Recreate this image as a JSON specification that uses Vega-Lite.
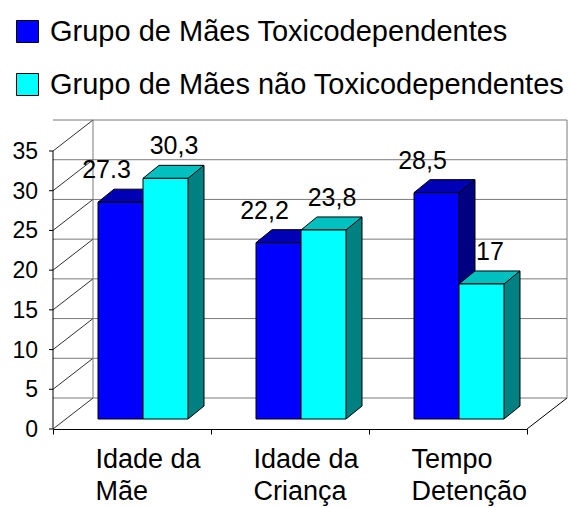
{
  "$schema": "https://vega.github.io/schema/vega-lite/v6.json",
  "width": 474,
  "height": 278,
  "autosize": {"type": "none"},
  "padding": {"left": 53, "top": 151, "right": 45, "bottom": 79},
  "background": "white",
  "config": {
    "font": "Liberation Sans",
    "view": {"stroke": null},
    "axisY": {"disable": true},
    "axisX": {
      "title": null, "grid": false, "tickBand": "extent", "domainColor": "black", "tickColor": "black", "tickSize": 5,
      "labelFontSize": 27, "labelColor": "black", "labelAlign": "left", "labelOffset": -37, "labelPadding": 12,
      "labelBaseline": "top", "labelLineHeight": 32, "labelLimit": 0, "labelAngle": 0, "labelFont": "Liberation Sans"
    }
  },
  "datasets": {
    "dados": [
      {"categoria": "Idade da Mãe", "serie": "Grupo de Mães Toxicodependentes", "valor": 27.3, "rotulo": "27.3"},
      {"categoria": "Idade da Mãe", "serie": "Grupo de Mães não Toxicodependentes", "valor": 30.3, "rotulo": "30,3"},
      {"categoria": "Idade da Criança", "serie": "Grupo de Mães Toxicodependentes", "valor": 22.2, "rotulo": "22,2"},
      {"categoria": "Idade da Criança", "serie": "Grupo de Mães não Toxicodependentes", "valor": 23.8, "rotulo": "23,8"},
      {"categoria": "Tempo Detenção", "serie": "Grupo de Mães Toxicodependentes", "valor": 28.5, "rotulo": "28,5"},
      {"categoria": "Tempo Detenção", "serie": "Grupo de Mães não Toxicodependentes", "valor": 17, "rotulo": "17"}
    ],
    "grelha": [{"v": 0}, {"v": 5}, {"v": 10}, {"v": 15}, {"v": 20}, {"v": 25}, {"v": 30}, {"v": 35}],
    "parede": [{"lado": "parede"}]
  },
  "data": {"name": "dados"},
  "layer": [
    {
      "data": {"name": "grelha"},
      "mark": {"type": "rule", "color": "#7a7a7a", "strokeWidth": 1, "xOffset": 40, "x2Offset": 40, "yOffset": -31},
      "encoding": {
        "y": {"field": "v", "type": "quantitative", "title": null, "scale": {"domain": [0, 35], "nice": false, "zero": true}}
      }
    },
    {
      "data": {"name": "grelha"},
      "mark": {"type": "point", "shape": "M0,0 L40,-31", "size": 4, "filled": false, "opacity": 1, "stroke": "#303030", "strokeWidth": 1, "xOffset": -79},
      "encoding": {
        "x": {
          "datum": "Idade da Mãe", "type": "nominal", "title": null,
          "scale": {"domain": ["Idade da Mãe", "Idade da Criança", "Tempo Detenção"], "paddingInner": 0, "paddingOuter": 0},
          "axis": {
            "labelExpr": "datum.label === 'Tempo Detenção' ? ['Tempo', 'Detenção'] : [slice(datum.label, 0, 8), slice(datum.label, 9)]"
          }
        },
        "y": {"field": "v", "type": "quantitative", "title": null}
      }
    },
    {
      "data": {"name": "parede"},
      "mark": {"type": "rule", "color": "#7a7a7a", "strokeWidth": 1, "xOffset": -39, "yOffset": -31, "y2Offset": -31},
      "encoding": {
        "x": {"datum": "Idade da Mãe", "type": "nominal", "title": null},
        "y": {"datum": 0, "type": "quantitative", "title": null},
        "y2": {"datum": 35}
      }
    },
    {
      "data": {"name": "parede"},
      "mark": {"type": "rule", "color": "#7a7a7a", "strokeWidth": 1, "xOffset": 119, "yOffset": -31, "y2Offset": -31},
      "encoding": {
        "x": {"datum": "Tempo Detenção", "type": "nominal", "title": null},
        "y": {"datum": 0, "type": "quantitative", "title": null},
        "y2": {"datum": 35}
      }
    },
    {
      "data": {"name": "parede"},
      "mark": {"type": "point", "shape": "M0,0 L40,-31", "size": 4, "filled": false, "opacity": 1, "stroke": "black", "strokeWidth": 1, "xOffset": 79},
      "encoding": {
        "x": {"datum": "Tempo Detenção", "type": "nominal", "title": null},
        "y": {"datum": 0, "type": "quantitative", "title": null}
      }
    },
    {
      "data": {"name": "parede"},
      "mark": {"type": "rule", "color": "black", "strokeWidth": 1, "xOffset": -79},
      "encoding": {
        "x": {"datum": "Idade da Mãe", "type": "nominal", "title": null},
        "y": {"datum": 0, "type": "quantitative", "title": null},
        "y2": {"datum": 35}
      }
    },
    {
      "data": {"name": "grelha"},
      "mark": {"type": "point", "shape": "M-4,0 L0,0", "size": 4, "filled": false, "opacity": 1, "stroke": "black", "strokeWidth": 1, "xOffset": -79},
      "encoding": {
        "x": {"datum": "Idade da Mãe", "type": "nominal", "title": null},
        "y": {"field": "v", "type": "quantitative", "title": null}
      }
    },
    {
      "data": {"name": "grelha"},
      "mark": {"type": "text", "fontSize": 23, "color": "black", "align": "right", "baseline": "middle", "xOffset": -79, "dx": -15, "dy": 1},
      "encoding": {
        "x": {"datum": "Idade da Mãe", "type": "nominal", "title": null},
        "y": {"field": "v", "type": "quantitative", "title": null},
        "text": {"field": "v", "type": "quantitative"}
      }
    },

    {
      "transform": [{"filter": "datum.serie === 'Grupo de Mães Toxicodependentes'"}],
      "mark": {"type": "bar", "width": 16, "xOffset": 19, "yOffset": -23, "y2Offset": -23, "strokeWidth": 0, "fill": "#000080"},
      "encoding": {
        "x": {"field": "categoria", "type": "nominal", "title": null},
        "y": {"field": "valor", "type": "quantitative", "title": null},
        "y2": {"datum": 0}
      }
    },
    {
      "transform": [{"filter": "datum.serie === 'Grupo de Mães Toxicodependentes'"}],
      "mark": {"type": "point", "shape": "M0,0 L0,-13 L16,-13 Z", "size": 4, "filled": true, "opacity": 1, "fill": "#000080", "strokeWidth": 0, "xOffset": 11, "yOffset": -10},
      "encoding": {
        "x": {"field": "categoria", "type": "nominal", "title": null},
        "y": {"datum": 0, "type": "quantitative", "title": null}
      }
    },
    {
      "transform": [{"filter": "datum.serie === 'Grupo de Mães Toxicodependentes'"}],
      "mark": {"type": "rule", "color": "black", "strokeWidth": 1, "xOffset": 27, "yOffset": -23, "y2Offset": -23},
      "encoding": {
        "x": {"field": "categoria", "type": "nominal", "title": null},
        "y": {"field": "valor", "type": "quantitative", "title": null},
        "y2": {"datum": 0}
      }
    },
    {
      "transform": [{"filter": "datum.serie === 'Grupo de Mães Toxicodependentes'"}],
      "mark": {"type": "point", "shape": "M0,0 L16,-13", "size": 4, "filled": false, "opacity": 1, "stroke": "black", "strokeWidth": 1, "xOffset": 11, "yOffset": -10},
      "encoding": {
        "x": {"field": "categoria", "type": "nominal", "title": null},
        "y": {"datum": 0, "type": "quantitative", "title": null}
      }
    },
    {
      "transform": [{"filter": "datum.serie === 'Grupo de Mães Toxicodependentes'"}],
      "mark": {"type": "point", "shape": "M-22.5,0 L22.5,0 L38.5,-13 L-6.5,-13 Z", "size": 4, "filled": true, "opacity": 1, "fill": "#0000B4", "stroke": "black", "strokeWidth": 1, "xOffset": -11.5, "yOffset": -10},
      "encoding": {
        "x": {"field": "categoria", "type": "nominal", "title": null},
        "y": {"field": "valor", "type": "quantitative", "title": null}
      }
    },
    {
      "transform": [{"filter": "datum.serie === 'Grupo de Mães Toxicodependentes'"}],
      "mark": {"type": "bar", "width": 45, "stroke": "black", "strokeWidth": 1, "xOffset": -11.5, "yOffset": -10, "y2Offset": -10},
      "encoding": {
        "x": {"field": "categoria", "type": "nominal", "title": null},
        "y": {"field": "valor", "type": "quantitative", "title": null},
        "y2": {"datum": 0},
        "fill": {
          "field": "serie", "type": "nominal",
          "scale": {"domain": ["Grupo de Mães Toxicodependentes", "Grupo de Mães não Toxicodependentes"], "range": ["#0000FF", "#00FFFF"]},
          "legend": {
            "orient": "none", "legendX": -40, "legendY": -134, "title": null, "direction": "vertical",
            "symbolType": "square", "symbolSize": 484, "symbolStrokeColor": "black", "symbolStrokeWidth": 1, "symbolOpacity": 1,
            "labelFontSize": 29, "labelColor": "black", "labelOffset": 8, "rowPadding": 23, "labelLimit": 0, "padding": 0
          }
        }
      }
    },

    {
      "transform": [{"filter": "datum.serie === 'Grupo de Mães não Toxicodependentes'"}],
      "mark": {"type": "bar", "width": 16, "xOffset": 64, "yOffset": -23, "y2Offset": -23, "strokeWidth": 0, "fill": "#008080"},
      "encoding": {
        "x": {"field": "categoria", "type": "nominal", "title": null},
        "y": {"field": "valor", "type": "quantitative", "title": null},
        "y2": {"datum": 0}
      }
    },
    {
      "transform": [{"filter": "datum.serie === 'Grupo de Mães não Toxicodependentes'"}],
      "mark": {"type": "point", "shape": "M0,0 L0,-13 L16,-13 Z", "size": 4, "filled": true, "opacity": 1, "fill": "#008080", "strokeWidth": 0, "xOffset": 56, "yOffset": -10},
      "encoding": {
        "x": {"field": "categoria", "type": "nominal", "title": null},
        "y": {"datum": 0, "type": "quantitative", "title": null}
      }
    },
    {
      "transform": [{"filter": "datum.serie === 'Grupo de Mães não Toxicodependentes'"}],
      "mark": {"type": "rule", "color": "black", "strokeWidth": 1, "xOffset": 72, "yOffset": -23, "y2Offset": -23},
      "encoding": {
        "x": {"field": "categoria", "type": "nominal", "title": null},
        "y": {"field": "valor", "type": "quantitative", "title": null},
        "y2": {"datum": 0}
      }
    },
    {
      "transform": [{"filter": "datum.serie === 'Grupo de Mães não Toxicodependentes'"}],
      "mark": {"type": "point", "shape": "M0,0 L16,-13", "size": 4, "filled": false, "opacity": 1, "stroke": "black", "strokeWidth": 1, "xOffset": 56, "yOffset": -10},
      "encoding": {
        "x": {"field": "categoria", "type": "nominal", "title": null},
        "y": {"datum": 0, "type": "quantitative", "title": null}
      }
    },
    {
      "transform": [{"filter": "datum.serie === 'Grupo de Mães não Toxicodependentes'"}],
      "mark": {"type": "point", "shape": "M-22.5,0 L22.5,0 L38.5,-13 L-6.5,-13 Z", "size": 4, "filled": true, "opacity": 1, "fill": "#00C0C0", "stroke": "black", "strokeWidth": 1, "xOffset": 33.5, "yOffset": -10},
      "encoding": {
        "x": {"field": "categoria", "type": "nominal", "title": null},
        "y": {"field": "valor", "type": "quantitative", "title": null}
      }
    },
    {
      "transform": [{"filter": "datum.serie === 'Grupo de Mães não Toxicodependentes'"}],
      "mark": {"type": "bar", "width": 45, "stroke": "black", "strokeWidth": 1, "xOffset": 33.5, "yOffset": -10, "y2Offset": -10},
      "encoding": {
        "x": {"field": "categoria", "type": "nominal", "title": null},
        "y": {"field": "valor", "type": "quantitative", "title": null},
        "y2": {"datum": 0},
        "fill": {"field": "serie", "type": "nominal"}
      }
    },

    {
      "transform": [{"filter": "datum.serie === 'Grupo de Mães Toxicodependentes'"}],
      "mark": {"type": "text", "fontSize": 25, "color": "black", "align": "center", "baseline": "alphabetic", "dx": -25.5, "dy": -34},
      "encoding": {
        "x": {"field": "categoria", "type": "nominal", "title": null},
        "y": {"field": "valor", "type": "quantitative", "title": null},
        "text": {"field": "rotulo", "type": "nominal"}
      }
    },
    {
      "transform": [{"filter": "datum.serie === 'Grupo de Mães não Toxicodependentes'"}],
      "mark": {"type": "text", "fontSize": 25, "color": "black", "align": "center", "baseline": "alphabetic", "dx": 42, "dy": -34},
      "encoding": {
        "x": {"field": "categoria", "type": "nominal", "title": null},
        "y": {"field": "valor", "type": "quantitative", "title": null},
        "text": {"field": "rotulo", "type": "nominal"}
      }
    }
  ]
}
